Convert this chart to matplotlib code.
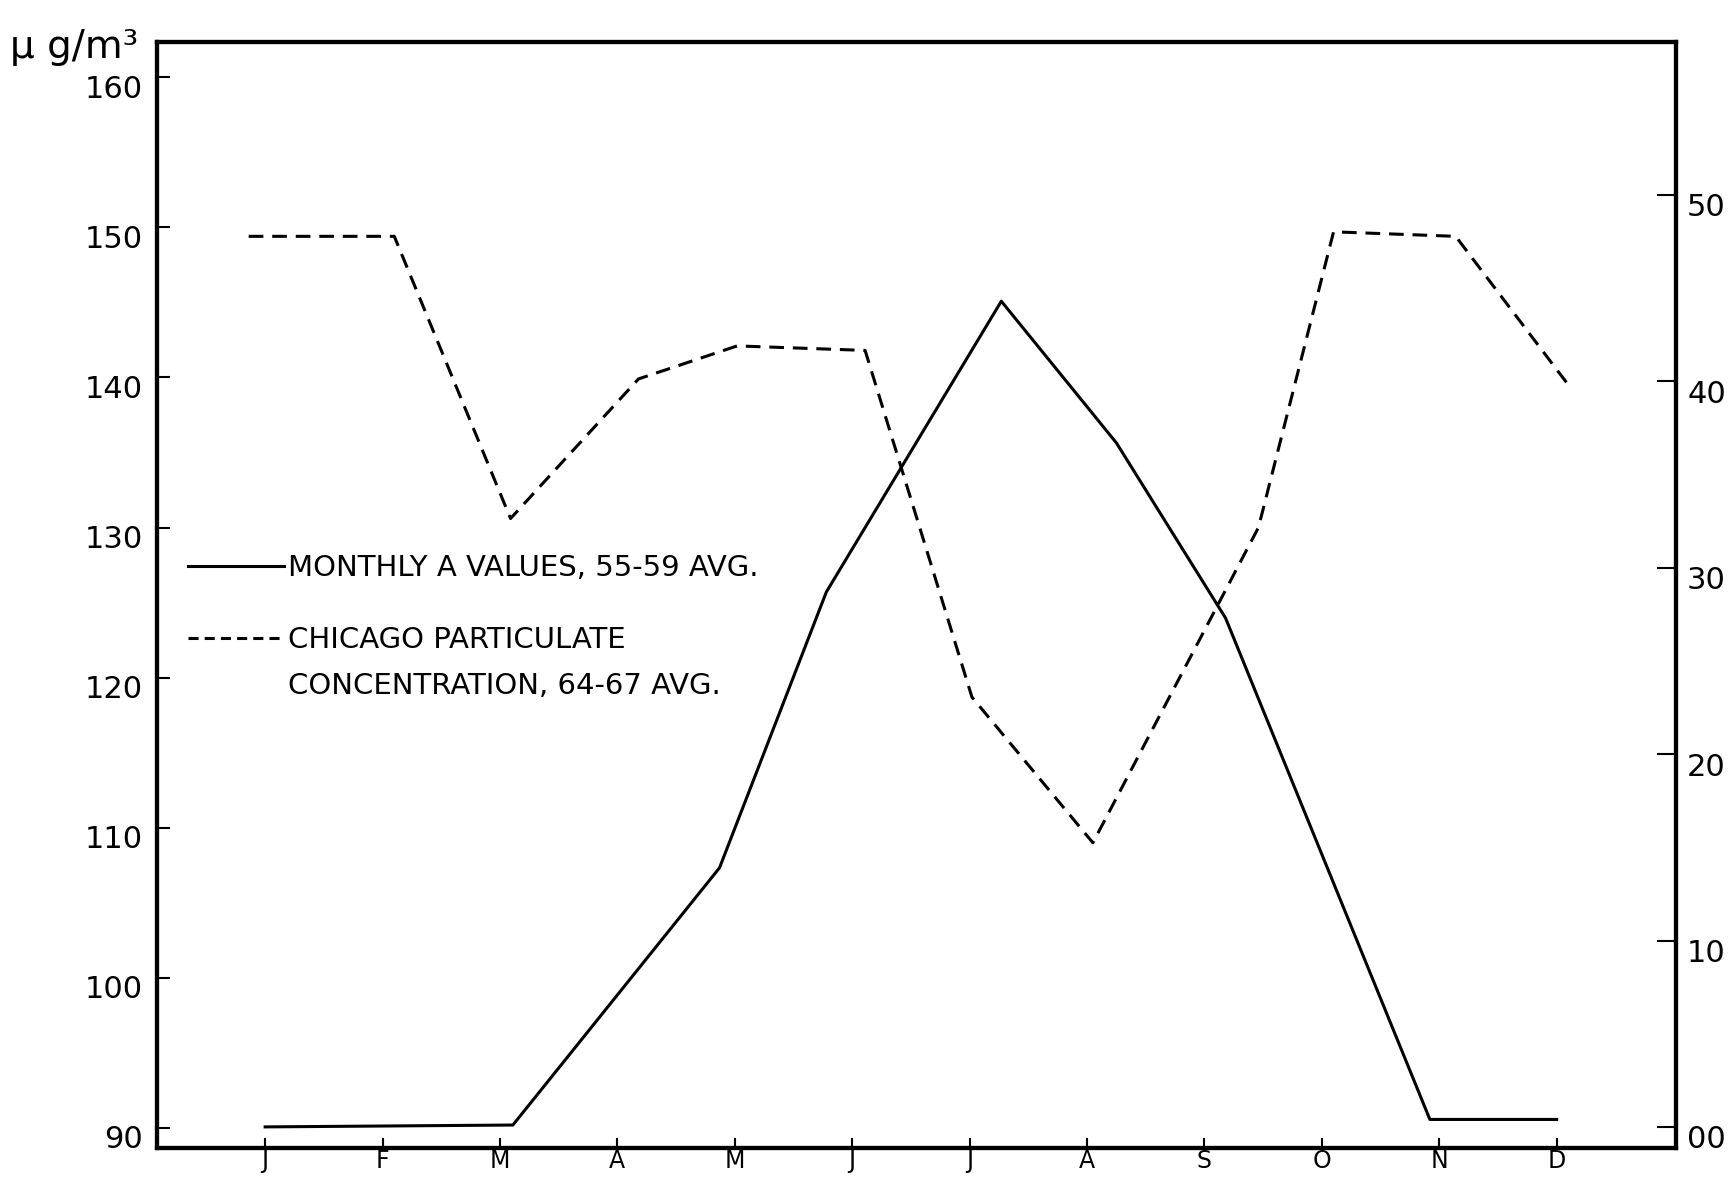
import matplotlib
matplotlib.use("Agg")
import matplotlib.pyplot as plt
from matplotlib.lines import Line2D
from matplotlib.transforms import ScaledTranslation

# ---- data -------------------------------------------------------------
months = ["J", "F", "M", "A", "M", "J", "J", "A", "S", "O", "N", "D"]
month_pos = list(range(12))

# Monthly A values, 55-59 avg (right axis); x in month units
a_x = [0.0, 2.11, 3.87, 4.78, 6.27, 7.25, 8.18, 9.92, 11.0]
a_vals = [0.0, 0.1, 13.9, 28.7, 44.3, 36.7, 27.3, 0.4, 0.4]

# Chicago particulate concentration, 64-67 avg (left axis, ug/m3)
p_x = [-0.14, 1.10, 2.09, 3.18, 4.02, 5.11, 6.02, 7.05, 8.46, 9.10, 10.14, 11.09]
p_vals = [149.4, 149.4, 130.6, 139.9, 142.1, 141.8, 118.7, 109.0, 130.0, 149.7, 149.4, 139.6]

left_ticks = [90, 100, 110, 120, 130, 140, 150, 160]
right_ticks = [0, 10, 20, 30, 40, 50]
right_tick_labels = ["00", "10", "20", "30", "40", "50"]

label_a = "MONTHLY A VALUES, 55-59 AVG."
label_p1 = "CHICAGO PARTICULATE"
label_p2 = "CONCENTRATION, 64-67 AVG."
unit_label = "\u03bc g/m\u00b3"

# ---- figure -----------------------------------------------------------
plt.rcParams['font.family'] = ['DejaVu Sans']
fig = plt.figure(figsize=(17.31, 11.78), dpi=100)
ax = fig.add_axes([0.0907, 0.0255, 0.8775, 0.9389])
ax2 = ax.twinx()

lw = 2.2
dash = (4.8, 2.9)
ax.plot(p_x, p_vals, color="black", lw=lw, linestyle=(0, dash))
ax2.plot(a_x, a_vals, color="black", lw=lw, linestyle="-")

ax.set_xlim(-0.921, 12.016)
ax.set_ylim(88.67, 162.35)
ax2.set_ylim(-1.13, 58.21)

ax.set_xticks(month_pos)
ax.set_xticklabels(months)
ax.set_yticks(left_ticks)
ax.set_yticklabels([str(t) for t in left_ticks])
ax2.set_yticks(right_ticks)
ax2.set_yticklabels(right_tick_labels)

for a in (ax, ax2):
    for s in a.spines.values():
        s.set_linewidth(3.0)
        s.set_color("black")

ax.tick_params(axis="y", direction="in", length=9, width=1.5, pad=10,
               labelsize=22, left=True, right=False)
ax.tick_params(axis="x", direction="in", length=7, width=1.5, pad=0.5,
               labelsize=17, top=False)
ax2.tick_params(axis="y", direction="in", length=14, width=1.5, pad=8,
                labelsize=22, right=True, left=False)

# tick labels sit slightly below their ticks in the original
off_l = ScaledTranslation(0, -9 / 100, fig.dpi_scale_trans)
for t in ax.get_yticklabels():
    t.set_transform(t.get_transform() + off_l)
off_r = ScaledTranslation(0, -10 / 100, fig.dpi_scale_trans)
for t in ax2.get_yticklabels():
    t.set_transform(t.get_transform() + off_r)

# legend
h_a = Line2D([], [], color="black", lw=lw, linestyle="-")
h_p = Line2D([], [], color="black", lw=lw, linestyle=(0, (3.3, 2.0)))
h_blank = Line2D([], [], color="none", lw=0)

leg_kw = dict(frameon=False, fontsize=21, handlelength=3.3, handletextpad=0.12,
              borderpad=0, borderaxespad=0, loc="center left")
leg1 = ax.legend([h_a], [label_a], bbox_to_anchor=(0.0204, 0.524), **leg_kw)
ax.add_artist(leg1)
leg2 = ax.legend([h_p, h_blank], [label_p1, label_p2],
                 bbox_to_anchor=(0.0204, 0.4385), labelspacing=0.59, **leg_kw)

fig.text(0.006, 1 - 47 / 1178, unit_label, fontsize=28, va="center", ha="left")

fig.savefig("out.png", dpi=100)
